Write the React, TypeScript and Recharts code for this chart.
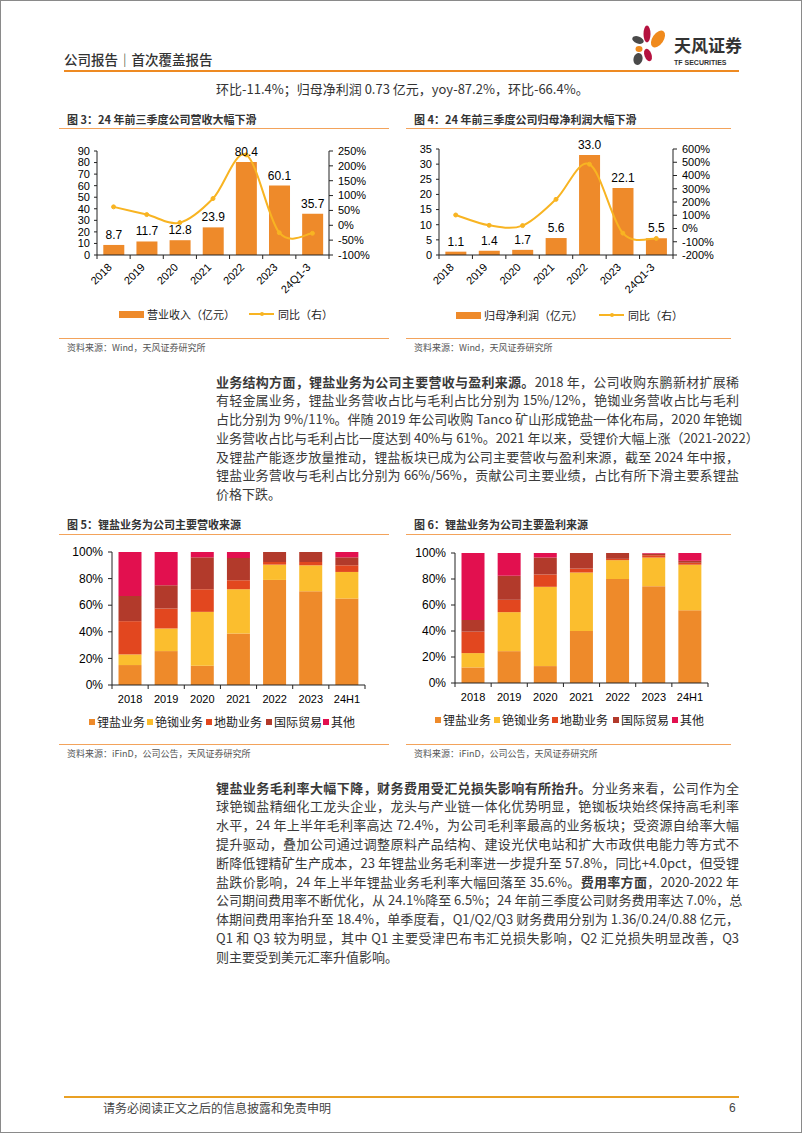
import React from 'react';
import { ComposedChart, BarChart, Bar, Line, XAxis, YAxis, LabelList } from 'recharts';

// 图3 / 图4
const years = ['2018', '2019', '2020', '2021', '2022', '2023', '24Q1-3'];
const revenue = [8.7, 11.7, 12.8, 23.9, 80.4, 60.1, 35.7];
const revenueYoy = [62, 36, 9, 90, 237, -25, -27];
const netProfit = [1.1, 1.4, 1.7, 5.6, 33.0, 22.1, 5.5];
const netProfitYoy = [102, 24, 22, 220, 485, -35, -75];
const revLeftTicks = [0, 10, 20, 30, 40, 50, 60, 70, 80, 90];
const revRightTicks = [-100, -50, 0, 50, 100, 150, 200, 250];
const npLeftTicks = [0, 5, 10, 15, 20, 25, 30, 35];
const npRightTicks = [-200, -100, 0, 100, 200, 300, 400, 500, 600];

// 图5 / 图6
const shareYears = ['2018', '2019', '2020', '2021', '2022', '2023', '24H1'];
const segmentNames = ['锂盐业务', '铯铷业务', '地勘业务', '国际贸易', '其他'];
const revShareLithium = [15, 25.5, 14.5, 38.75, 79, 70.5, 65];
const revShareCesium = [8, 17, 40.5, 33.25, 11.5, 19.5, 20];
const revShareExplore = [25, 15, 17, 6.75, 2, 2.5, 5];
const revShareTrade = [19, 17.5, 24, 16.75, 7.5, 7.5, 6];
const revShareOther = [33, 25, 4, 4.5, 0, 0, 4];
const gpShareLithium = [12, 24.5, 13, 40, 80, 74.5, 56];
const gpShareCesium = [11, 30, 61, 45, 14.5, 22, 35];
const gpShareExplore = [16.5, 9.5, 9.5, 3, 1, 1.8, 1.5];
const gpShareTrade = [9, 18.5, 13, 12, 4.5, 1.2, 1.5];
const gpShareOther = [51.5, 17.5, 3.5, 0, 0, 0.5, 6];
const shareTicks = [0, 20, 40, 60, 80, 100];

const ORANGE = '#EE8A2A';
const GOLD = '#F8B422';
const SEG_COLORS = ['#EE8A2A', '#FBBE2E', '#E2471F', '#B23A2B', '#E2104F'];
const SEG_KEYS = ['lithium', 'cesium', 'explore', 'trade', 'other'];
const AXIS = '#222';
const NUM_FONT = '"Liberation Sans", Arial, "Noto Sans CJK SC", sans-serif';
const CJK_FONT = '"Noto Sans CJK SC", "Liberation Sans", sans-serif';

const comboRows = (vals: number[], yoy: number[]) =>
  years.map((y, i) => ({ year: y, value: vals[i], yoy: yoy[i] }));

const shareRows = (a: number[], b: number[], c: number[], d: number[], e: number[]) =>
  shareYears.map((y, i) => ({ year: y, lithium: a[i], cesium: b[i], explore: c[i], trade: d[i], other: e[i] }));

// excel-like smoothed line (catmull-rom through the points)
const excelSmooth = (context: any) => {
  let pts: number[][] = [];
  return {
    areaStart() {},
    areaEnd() {},
    lineStart() { pts = []; },
    point(x: number, y: number) { pts.push([+x, +y]); },
    lineEnd() {
      const n = pts.length;
      if (!n) return;
      context.moveTo(pts[0][0], pts[0][1]);
      for (let i = 0; i < n - 1; i++) {
        const p0 = pts[Math.max(i - 1, 0)];
        const p1 = pts[i];
        const p2 = pts[i + 1];
        const p3 = pts[Math.min(i + 2, n - 1)];
        context.bezierCurveTo(
          p1[0] + (p2[0] - p0[0]) / 6, p1[1] + (p2[1] - p0[1]) / 6,
          p2[0] - (p3[0] - p1[0]) / 6, p2[1] - (p3[1] - p1[1]) / 6,
          p2[0], p2[1],
        );
      }
    },
  };
};

const RotatedTick = (props: any) => {
  const { x, y, payload, index, band } = props;
  return (
    <g>
      <line x1={x + band / 2} x2={x + band / 2} y1={y} y2={y + 4} stroke={AXIS} />
      {index === 0 && <line x1={x - band / 2} x2={x - band / 2} y1={y} y2={y + 4} stroke={AXIS} />}
      <text x={x - 1} y={y + 13} transform={`rotate(-45 ${x - 1} ${y + 13})`} textAnchor="end"
        fontSize={11} fill="#000" fontFamily={NUM_FONT}>{payload.value}</text>
    </g>
  );
};

const FlatTick = (props: any) => {
  const { x, y, payload, index, band } = props;
  return (
    <g>
      <line x1={x + band / 2} x2={x + band / 2} y1={y} y2={y + 4} stroke={AXIS} />
      {index === 0 && <line x1={x - band / 2} x2={x - band / 2} y1={y} y2={y + 4} stroke={AXIS} />}
      <text x={x} y={y + 18} textAnchor="middle" fontSize={11} fill="#000" fontFamily={NUM_FONT}>{payload.value}</text>
    </g>
  );
};

const axisTick = { fontSize: 11, fill: '#000', fontFamily: NUM_FONT };

const ComboChart = ({ rows, leftTicks, rightTicks, leftMax, rightMin, rightMax, marginLeft, leftWidth, plotWidth, plotHeight }: any) => (
  <ComposedChart width={marginLeft + leftWidth + plotWidth + 52 + 5} height={12 + plotHeight + 40}
    data={rows} margin={{ top: 12, right: 5, bottom: 4, left: marginLeft }} barCategoryGap="19%">
    <XAxis dataKey="year" interval={0} tickLine={false} tickSize={0} tickMargin={0} height={36}
      axisLine={{ stroke: AXIS }} tick={<RotatedTick band={plotWidth / years.length} />} />
    <YAxis yAxisId="left" domain={[0, leftMax]} ticks={leftTicks} width={leftWidth} tickSize={3} tickMargin={4}
      axisLine={{ stroke: AXIS }} tickLine={{ stroke: AXIS }} tick={axisTick} interval={0} />
    <YAxis yAxisId="right" orientation="right" domain={[rightMin, rightMax]} ticks={rightTicks} width={52}
      tickSize={4} tickMargin={5} axisLine={{ stroke: AXIS }} tickLine={{ stroke: AXIS }} tick={axisTick}
      interval={0} tickFormatter={(v: number) => `${v}%`} />
    <Bar yAxisId="left" dataKey="value" fill={ORANGE} isAnimationActive={false}>
      <LabelList dataKey="value" position="top" offset={6} fontSize={12} fill="#000" fontFamily={NUM_FONT}
        formatter={(v: any) => Number(v).toFixed(1)} />
    </Bar>
    <Line yAxisId="right" dataKey="yoy" type={excelSmooth as any} stroke={GOLD} strokeWidth={2}
      dot={{ r: 2, fill: GOLD, stroke: GOLD, strokeWidth: 1 }} isAnimationActive={false} />
  </ComposedChart>
);

const ShareChart = ({ rows, marginLeft, plotWidth, plotHeight }: any) => (
  <BarChart width={marginLeft + 46 + plotWidth + 20} height={11 + plotHeight + 26} data={rows}
    margin={{ top: 11, right: 20, bottom: 2, left: marginLeft }} barCategoryGap="18%">
    <XAxis dataKey="year" interval={0} tickLine={false} tickSize={0} tickMargin={0} height={24}
      axisLine={{ stroke: AXIS }} tick={<FlatTick band={plotWidth / shareYears.length} />} />
    <YAxis domain={[0, 100]} ticks={shareTicks} width={46} tickSize={4} tickMargin={5} interval={0}
      axisLine={{ stroke: AXIS }} tickLine={{ stroke: AXIS }} tick={{ ...axisTick, fontSize: 12 }}
      tickFormatter={(v: number) => `${v}%`} />
    {SEG_KEYS.map((k, i) => (
      <Bar key={k} dataKey={k} stackId="s" fill={SEG_COLORS[i]} isAnimationActive={false} />
    ))}
  </BarChart>
);

const abs = (left: number, top: number, extra: any = {}): React.CSSProperties => ({ position: 'absolute', left, top, ...extra });

const FigureFrame = ({ left, width, titleTop, title, lineTop, bottomLine, sourceTop, source }: any) => (
  <>
    <div style={abs(left + 8, titleTop, { fontSize: 11, fontWeight: 700, color: '#333', fontFamily: CJK_FONT, whiteSpace: 'nowrap', lineHeight: '14px' })}>{title}</div>
    <div style={abs(left, lineTop, { width, height: 0, borderTop: '1.5px solid #F3A35B' })} />
    <div style={abs(left, bottomLine, { width, height: 0, borderTop: '1.5px solid #F3A35B' })} />
    <div style={abs(left + 8, sourceTop, { fontSize: 9, color: '#555', fontFamily: CJK_FONT, whiteSpace: 'nowrap', lineHeight: '12px' })}>{source}</div>
  </>
);

const ComboLegend = ({ top, barX, barText, lineX, lineText }: any) => (
  <>
    <div style={abs(barX, top - 3.5, { width: 25, height: 7, background: ORANGE })} />
    <div style={abs(barX + 28, top - 8, { fontSize: 11, lineHeight: '16px', color: '#222', fontFamily: CJK_FONT, whiteSpace: 'nowrap' })}>{barText}</div>
    <div style={abs(lineX, top - 1, { width: 25, height: 2, background: GOLD })} />
    <div style={abs(lineX + 10.5, top - 2, { width: 4, height: 4, borderRadius: 2, background: GOLD })} />
    <div style={abs(lineX + 29, top - 8, { fontSize: 11, lineHeight: '16px', color: '#222', fontFamily: CJK_FONT, whiteSpace: 'nowrap' })}>{lineText}</div>
  </>
);

const ShareLegend = ({ top, xs }: any) => (
  <>
    {segmentNames.map((name, i) => (
      <React.Fragment key={name}>
        <div style={abs(xs[i], top - 3, { width: 6, height: 6, background: SEG_COLORS[i] })} />
        <div style={abs(xs[i] + 8, top - 9, { fontSize: 12, lineHeight: '18px', color: '#222', fontFamily: CJK_FONT, whiteSpace: 'nowrap' })}>{name}</div>
      </React.Fragment>
    ))}
  </>
);

const para1 = [
  [<b key="b">业务结构方面，锂盐业务为公司主要营收与盈利来源。</b>, '2018 年，公司收购东鹏新材扩展稀'],
  ['有轻金属业务，锂盐业务营收占比与毛利占比分别为 15%/12%，铯铷业务营收占比与毛利'],
  ['占比分别为 9%/11%。伴随 2019 年公司收购 Tanco 矿山形成铯盐一体化布局，2020 年铯铷'],
  ['业务营收占比与毛利占比一度达到 40%与 61%。2021 年以来，受锂价大幅上涨（2021-2022）'],
  ['及锂盐产能逐步放量推动，锂盐板块已成为公司主要营收与盈利来源，截至 2024 年中报，'],
  ['锂盐业务营收与毛利占比分别为 66%/56%，贡献公司主要业绩，占比有所下滑主要系锂盐'],
  ['价格下跌。'],
];

const para2 = [
  [<b key="b">锂盐业务毛利率大幅下降，财务费用受汇兑损失影响有所抬升。</b>, '分业务来看，公司作为全'],
  ['球铯铷盐精细化工龙头企业，龙头与产业链一体化优势明显，铯铷板块始终保持高毛利率'],
  ['水平，24 年上半年毛利率高达 72.4%，为公司毛利率最高的业务板块；受资源自给率大幅'],
  ['提升驱动，叠加公司通过调整原料产品结构、建设光伏电站和扩大市政供电能力等方式不'],
  ['断降低锂精矿生产成本，23 年锂盐业务毛利率进一步提升至 57.8%，同比+4.0pct，但受锂'],
  ['盐跌价影响，24 年上半年锂盐业务毛利率大幅回落至 35.6%。', <b key="b">费用率方面</b>, '，2020-2022 年'],
  ['公司期间费用率不断优化，从 24.1%降至 6.5%；24 年前三季度公司财务费用率达 7.0%，总'],
  ['体期间费用率抬升至 18.4%，单季度看，Q1/Q2/Q3 财务费用分别为 1.36/0.24/0.88 亿元，'],
  ['Q1 和 Q3 较为明显，其中 Q1 主要受津巴布韦汇兑损失影响，Q2 汇兑损失明显改善，Q3'],
  ['则主要受到美元汇率升值影响。'],
];

const Paragraph = ({ lines, firstCenter, step }: any) => (
  <>
    {lines.map((parts: any[], i: number) => (
      <div key={i} style={abs(215, firstCenter + i * step - 9.5, {
        width: 523, fontSize: 13, lineHeight: '19px', color: '#3a3a3a', fontFamily: CJK_FONT,
        whiteSpace: 'nowrap', textAlign: 'justify', textAlignLast: i === lines.length - 1 ? 'left' : 'justify',
      })}>{parts}</div>
    ))}
  </>
);

const Logo = () => (
  <svg style={abs(628, 18)} width={116} height={52}>
    <ellipse cx={18} cy={15} rx={3.5} ry={8.5} fill="#B5123F" />
    <ellipse cx={29} cy={20} rx={5.5} ry={9.5} fill="#F08A1C" transform="rotate(35 29 20)" />
    <ellipse cx={9} cy={21} rx={6} ry={3.5} fill="#4A4A4A" transform="rotate(20 9 21)" />
    <ellipse cx={10} cy={30} rx={3.5} ry={3} fill="#F08A1C" />
    <ellipse cx={9} cy={40} rx={4.5} ry={6} fill="#4A4A4A" transform="rotate(15 9 40)" />
    <ellipse cx={19} cy={36} rx={3.5} ry={6.5} fill="#B5123F" transform="rotate(-20 19 36)" />
    <text x={45} y={33} fontSize={17} fontWeight={700} fill="#333" fontFamily={CJK_FONT}>天风证券</text>
    <text x={45} y={46} fontSize={7} fontWeight={700} fill="#333" fontFamily={NUM_FONT}>TF SECURITIES</text>
  </svg>
);

const revRows = comboRows(revenue, revenueYoy);
const npRows = comboRows(netProfit, netProfitYoy);
const revShareRows = shareRows(revShareLithium, revShareCesium, revShareExplore, revShareTrade, revShareOther);
const gpShareRows = shareRows(gpShareLithium, gpShareCesium, gpShareExplore, gpShareTrade, gpShareOther);

export default function App() {
  return (
    <div style={{ position: 'absolute', left: 0, top: 0, width: 802, height: 1133, boxSizing: 'border-box',
      border: '1px solid #8a8a8a', background: '#fff', overflow: 'hidden', fontFamily: CJK_FONT }}>
      {/* header */}
      <div style={abs(63, 49, { fontSize: 13.5, fontWeight: 500, color: '#333', lineHeight: '18px', whiteSpace: 'nowrap' })}>公司报告｜首次覆盖报告</div>
      <Logo />
      <div style={abs(63, 69, { width: 675, height: 0, borderTop: '2px solid #EE8A22' })} />
      <div style={abs(215, 78, { fontSize: 13, color: '#333', lineHeight: '19px', whiteSpace: 'nowrap' })}>
        环比-11.4%；归母净利润 0.73 亿元，yoy-87.2%，环比-66.4%。
      </div>

      {/* 图3 */}
      <FigureFrame left={58} width={330} titleTop={111} title="图 3：24 年前三季度公司营收大幅下滑" lineTop={127}
        bottomLine={337} sourceTop={341} source="资料来源：Wind，天风证券研究所" />
      <div style={abs(55, 138)}>
        <ComboChart rows={revRows} leftTicks={revLeftTicks} rightTicks={revRightTicks} leftMax={90}
          rightMin={-100} rightMax={250} marginLeft={5} leftWidth={36} plotWidth={232} plotHeight={104} />
      </div>
      <ComboLegend top={313} barX={118} barText="营业收入（亿元）" lineX={248} lineText="同比（右）" />

      {/* 图4 */}
      <FigureFrame left={405} width={325} titleTop={111} title="图 4：24 年前三季度公司归母净利润大幅下滑" lineTop={127}
        bottomLine={337} sourceTop={341} source="资料来源：Wind，天风证券研究所" />
      <div style={abs(405, 136)}>
        <ComboChart rows={npRows} leftTicks={npLeftTicks} rightTicks={npRightTicks} leftMax={35}
          rightMin={-200} rightMax={600} marginLeft={3} leftWidth={30} plotWidth={234} plotHeight={106} />
      </div>
      <ComboLegend top={314} barX={455} barText="归母净利润（亿元）" lineX={598} lineText="同比（右）" />

      <Paragraph lines={para1} firstCenter={380} step={18.75} />

      {/* 图5 */}
      <FigureFrame left={58} width={330} titleTop={516} title="图 5：锂盐业务为公司主要营收来源" lineTop={533}
        bottomLine={743} sourceTop={747} source="资料来源：iFinD，公司公告，天风证券研究所" />
      <div style={abs(55, 540)}>
        <ShareChart rows={revShareRows} marginLeft={10} plotWidth={253} plotHeight={133} />
      </div>
      <ShareLegend top={721} xs={[88, 146, 205, 265, 322]} />

      {/* 图6 */}
      <FigureFrame left={405} width={325} titleTop={516} title="图 6：锂盐业务为公司主要盈利来源" lineTop={533}
        bottomLine={743} sourceTop={747} source="资料来源：iFinD，公司公告，天风证券研究所" />
      <div style={abs(405, 541)}>
        <ShareChart rows={gpShareRows} marginLeft={3} plotWidth={253} plotHeight={130} />
      </div>
      <ShareLegend top={719} xs={[434, 493, 551, 612, 671]} />

      <Paragraph lines={para2} firstCenter={786} step={18.8} />

      {/* footer */}
      <div style={abs(63, 1095, { width: 675, height: 0, borderTop: '2px solid #E9A024' })} />
      <div style={abs(102, 1099, { fontSize: 12, color: '#444', lineHeight: '16px', whiteSpace: 'nowrap' })}>请务必阅读正文之后的信息披露和免责申明</div>
      <div style={abs(728, 1099, { fontSize: 12, color: '#444', lineHeight: '16px', fontFamily: NUM_FONT })}>6</div>
    </div>
  );
}
